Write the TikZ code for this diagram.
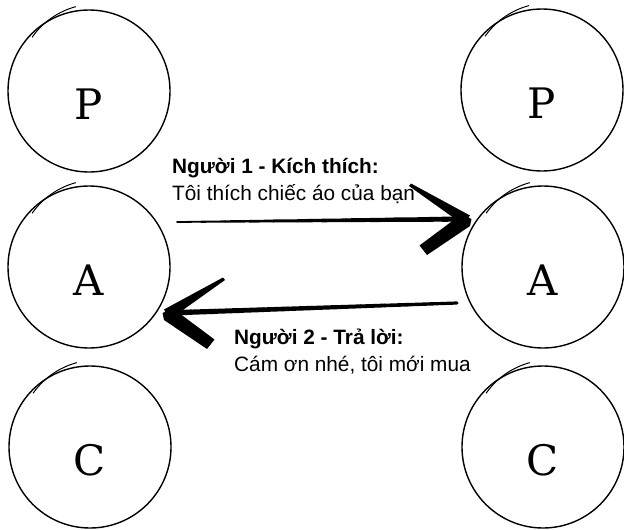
\documentclass[tikz,border=0pt]{standalone}
\usepackage{fontspec}
\newfontfamily\lblfont{Liberation Sans}
\newfontfamily\ringfont{DejaVu Serif}
\usetikzlibrary{calc}

\begin{document}
\begin{tikzpicture}[x=1pt, y=-1pt,
  ring/.style={circle, draw, line width=1.4pt, minimum size=162pt, inner sep=0pt,
    text height=56pt, text depth=0pt, font=\ringfont\fontsize{42}{42}\selectfont},
  lbl/.style={anchor=base west, align=left, inner sep=0pt,
    font=\lblfont\fontsize{20.8}{27}\selectfont},
  pics/barbs/.style={code={
    \fill (3,-3.5) -- (-56,-35.5) -- (-58,-33) -- (-4,5.5) -- cycle;
    \fill (4.5,0) -- (3,7) -- (-40,36) -- (-47.5,26.5) -- (-6,-4.5) -- cycle;
  }}]

\useasboundingbox (0,0) rectangle (624,530);

% left person
\node[ring] (pL) at (89,91) {P};
\node[ring] (aL) at (89,267) {A};
\node[ring] (cL) at (90,447) {C};

% right person
\node[ring] (pR) at (542,90) {P};
\node[ring] (aR) at (543,267) {A};
\node[ring] (cR) at (543,447) {C};

% overdrawn stroke at the top of each circle
\foreach \n in {pL,aL,cL,pR,aR,cR}
  \draw[line width=1pt] ([shift={(7,-9)}]\n.center) ++(-145:78)
    arc[start angle=-145, end angle=-105, radius=78];

% stimulus
\coordinate (t1) at ([shift={(88,-45)}]aL.center);
\coordinate (h1) at ([shift={(-76,-48)}]aR.center);
\foreach \i [evaluate=\i as \lw using 1.8+0.3*\i] in {0,...,11}
  \draw[line width=\lw pt, line cap=round] ($(t1)!{\i/12}!(h1)$) -- ($(t1)!{(\i+1)/12}!(h1)$);
\pic at (h1) {barbs};
\node[lbl] (msg1) at (172,200) {\textbf{Người 1 - Kích thích:}\\Tôi thích chiếc áo của bạn};

% response
\coordinate (t2) at ([shift={(-86,36)}]aR.center);
\coordinate (h2) at ([shift={(78,46)}]aL.center);
\foreach \i [evaluate=\i as \lw using 3.2+0.2*\i] in {0,...,11}
  \draw[line width=\lw pt, line cap=round] ($(t2)!{\i/12}!(h2)$) -- ($(t2)!{(\i+1)/12}!(h2)$);
\pic[xscale=-1] at (h2) {barbs};
\node[lbl] (msg2) at (234,371) {\textbf{Người 2 - Trả lời:}\\Cám ơn nhé, tôi mới mua};

\end{tikzpicture}
\end{document}
